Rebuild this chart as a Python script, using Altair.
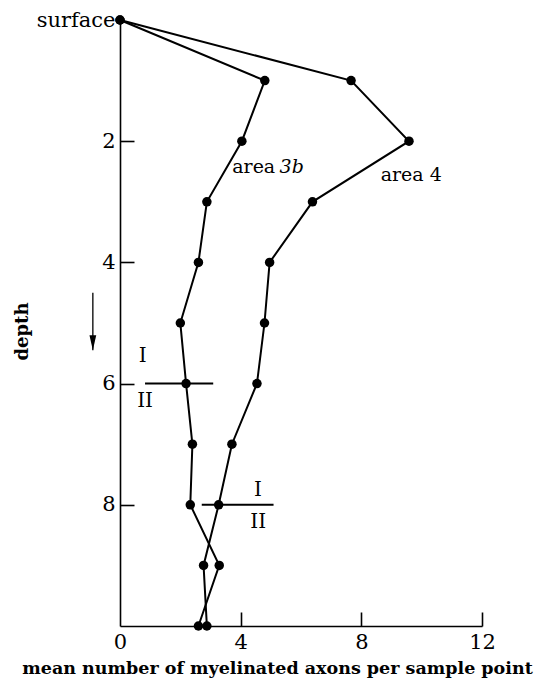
import altair as alt
import pandas as pd

# ---- data ----
depth = [0, 1, 2, 3, 4, 5, 6, 7, 8, 9, 10]
area_3b = [0.0, 4.8, 4.04, 2.88, 2.6, 2.0, 2.19, 2.4, 2.33, 3.29, 2.6]
area_4 = [0.0, 7.66, 9.58, 6.38, 4.96, 4.79, 4.54, 3.71, 3.27, 2.77, 2.88]

x_label_values = [0, 4, 8, 12]
x_tick_values = [4, 8, 12]
y_label_values = [0, 2, 4, 6, 8]
y_tick_values = [2, 4, 6, 8]

# layer I / II boundary markers
boundary_depth = [6, 8]
boundary_x_start = [0.83, 2.71]
boundary_x_end = [3.09, 5.09]
upper_label_x = [0.75, 4.57]
upper_label_depth = [5.55, 7.76]
lower_label_x = [0.83, 4.58]
lower_label_depth = [6.29, 8.29]

# series labels
area_word_x = [3.72, 8.64]
area_word_depth = [2.52, 2.65]
area_word_text = ["area", "area 4"]
area_italic_x = [5.29]
area_italic_depth = [2.52]
area_italic_text = ["3b"]

# depth arrow
arrow_x = [-0.9]
arrow_top = [4.5]
arrow_tip = [5.45]

FONT = "DejaVu Serif"

series_df = pd.DataFrame({
    "depth": depth * 2,
    "value": area_3b + area_4,
    "series": ["area 3b"] * len(depth) + ["area 4"] * len(depth),
})
boundary_df = pd.DataFrame({"d": boundary_depth, "x0": boundary_x_start, "x1": boundary_x_end})
upper_df = pd.DataFrame({"x": upper_label_x, "d": upper_label_depth, "t": ["I"] * 2})
lower_df = pd.DataFrame({"x": lower_label_x, "d": lower_label_depth, "t": ["II"] * 2})
word_df = pd.DataFrame({"x": area_word_x, "d": area_word_depth, "t": area_word_text})
ital_df = pd.DataFrame({"x": area_italic_x, "d": area_italic_depth, "t": area_italic_text})
arrow_df = pd.DataFrame({"x": arrow_x, "d0": arrow_top, "d1": arrow_tip})

x_scale = alt.Scale(domain=[0, 12], nice=False, zero=False)
y_scale = alt.Scale(domain=[0, 10], reverse=True, nice=False, zero=False)

main_x_axis = alt.Axis(
    values=x_label_values, ticks=False, domain=True, grid=False,
    labelPadding=5, labelFlush=False, labelOverlap=False,
    title="mean number of myelinated axons per sample point",
    titleX=157, titleY=47, titleBaseline="alphabetic", titleAlign="center",
    titleFontWeight="bold", titleFontSize=17.5, titleLimit=1000,
)
main_y_axis = alt.Axis(
    values=y_label_values, ticks=False, domain=True, grid=False,
    labelPadding=5, labelOverlap=False, labelLimit=200,
    labelExpr="datum.value == 0 ? 'surface' : datum.label",
    title="depth", titleX=-98, titleY=311, titleAngle=270,
    titleAlign="center", titleBaseline="middle",
    titleFontWeight="bold", titleFontSize=18,
)
tick_x_axis = alt.Axis(
    orient="bottom", offset=-14, tickSize=14, values=x_tick_values,
    labels=False, domain=False, grid=False, title=None,
)
tick_y_axis = alt.Axis(
    orient="left", offset=-14, tickSize=14, values=y_tick_values,
    labels=False, domain=False, grid=False, title=None,
)

lines = alt.Chart(series_df).mark_line(color="black", strokeWidth=2).encode(
    x=alt.X("value:Q", scale=x_scale, axis=main_x_axis),
    y=alt.Y("depth:Q", scale=y_scale, axis=main_y_axis),
    detail="series:N",
    order="depth:Q",
)
points = alt.Chart(series_df).mark_circle(size=90, color="black", opacity=1).encode(
    x=alt.X("value:Q", scale=x_scale, axis=tick_x_axis),
    y=alt.Y("depth:Q", scale=y_scale, axis=tick_y_axis),
)
boundaries = alt.Chart(boundary_df).mark_rule(color="black", strokeWidth=2).encode(
    x=alt.X("x0:Q", scale=x_scale, axis=None),
    x2="x1:Q",
    y=alt.Y("d:Q", scale=y_scale, axis=None),
)
upper = alt.Chart(upper_df).mark_text(font=FONT, fontSize=20, color="black", baseline="middle").encode(
    x=alt.X("x:Q", scale=x_scale, axis=None),
    y=alt.Y("d:Q", scale=y_scale, axis=None),
    text="t:N",
)
lower = alt.Chart(lower_df).mark_text(font=FONT, fontSize=20, color="black", baseline="middle").encode(
    x=alt.X("x:Q", scale=x_scale, axis=None),
    y=alt.Y("d:Q", scale=y_scale, axis=None),
    text="t:N",
)
words = alt.Chart(word_df).mark_text(font=FONT, fontSize=19, color="black", align="left", baseline="alphabetic").encode(
    x=alt.X("x:Q", scale=x_scale, axis=None),
    y=alt.Y("d:Q", scale=y_scale, axis=None),
    text="t:N",
)
italics = alt.Chart(ital_df).mark_text(font=FONT, fontSize=19, fontStyle="italic", color="black", align="left", baseline="alphabetic").encode(
    x=alt.X("x:Q", scale=x_scale, axis=None),
    y=alt.Y("d:Q", scale=y_scale, axis=None),
    text="t:N",
)
arrow_line = alt.Chart(arrow_df).mark_rule(color="black", strokeWidth=1.3).encode(
    x=alt.X("x:Q", scale=x_scale, axis=None),
    y=alt.Y("d0:Q", scale=y_scale, axis=None),
    y2="d1:Q",
)
arrow_head = alt.Chart(arrow_df).mark_point(
    shape="M -0.45 -2 L 0 0 L 0.45 -2 Z", size=225, filled=True, color="black", opacity=1
).encode(
    x=alt.X("x:Q", scale=x_scale, axis=None),
    y=alt.Y("d1:Q", scale=y_scale, axis=None),
)

chart = alt.layer(
    lines, points, boundaries, upper, lower, words, italics, arrow_line, arrow_head
).resolve_axis(
    x="independent", y="independent"
).properties(
    width=362, height=606,
    autosize=alt.AutoSizeParams(type="none"),
    padding={"left": 112, "top": 12, "right": 59, "bottom": 54},
    background="white",
).configure_view(
    stroke=None
).configure_axis(
    labelFont=FONT, labelFontSize=21, labelColor="black",
    titleFont=FONT, titleColor="black",
    domainColor="black", domainWidth=1.6,
    tickColor="black", tickWidth=1.6,
)

chart.save("out.html", embed_options={"renderer": "svg", "actions": False})
